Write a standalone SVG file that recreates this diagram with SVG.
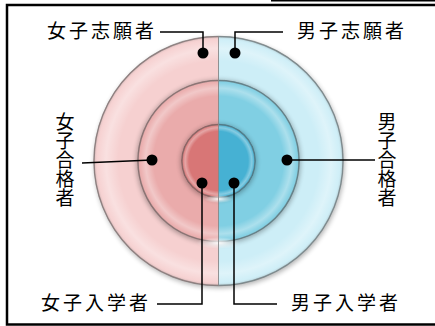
<svg xmlns="http://www.w3.org/2000/svg" width="435" height="326" viewBox="0 0 435 326">
<defs>
<style>
.lbl{font-family:"Noto Sans CJK JP","Noto Sans CJK SC",sans-serif;font-size:19px;fill:#000;letter-spacing:3px}
.vlbl{font-family:"Noto Sans CJK JP","Noto Sans CJK SC",sans-serif;font-size:19px;fill:#000;text-anchor:middle}
.lead{fill:none;stroke:#000;stroke-width:1.5}
.dot{fill:#000}
.rim{fill:url(#rim)}
.edge{fill:none;stroke:#555;stroke-opacity:0.55;stroke-width:1.4;filter:url(#soft)}
</style>
<radialGradient id="rim" cx="0.5" cy="0.5" r="0.5">
<stop offset="0.80" stop-color="#fff" stop-opacity="0"/>
<stop offset="0.90" stop-color="#fff" stop-opacity="0.35"/>
<stop offset="0.97" stop-color="#fff" stop-opacity="0.05"/>
<stop offset="1" stop-color="#000" stop-opacity="0.2"/>
</radialGradient>
<radialGradient id="glare" cx="0.5" cy="0.5" r="0.5">
<stop offset="0" stop-color="#fff" stop-opacity="0.95"/>
<stop offset="1" stop-color="#fff" stop-opacity="0"/>
</radialGradient>
<filter id="soft" x="-10%" y="-10%" width="120%" height="120%"><feGaussianBlur stdDeviation="0.7"/></filter>
<filter id="shadow" x="-20%" y="-20%" width="140%" height="140%"><feGaussianBlur stdDeviation="2.5"/></filter>
</defs>
<rect x="7" y="5" width="440" height="319.5" fill="#fff" stroke="#000" stroke-width="2.5"/>
<line x1="271" y1="0.7" x2="435" y2="0.7" stroke="#000" stroke-width="1.5"/>

<g id="outer-ring">
<circle cx="219.5" cy="163" r="125" fill="#000" opacity="0.3" filter="url(#shadow)"/>
<path d="M218.5 36 A125 125 0 0 0 218.5 286 Z" fill="#f6d0d0"/>
<path d="M218.5 36 A125 125 0 0 1 218.5 286 Z" fill="#cdeef7"/>
<circle class="rim" cx="218.5" cy="161" r="125"/>
<circle class="edge" cx="218.5" cy="161" r="124.5"/>
</g>
<g id="middle-ring">
<circle cx="218.5" cy="162" r="82" fill="#000" opacity="0.3" filter="url(#shadow)"/>
<path d="M218.5 80 A81 81 0 0 0 218.5 242 Z" fill="#eaabab"/>
<path d="M218.5 80 A81 81 0 0 1 218.5 242 Z" fill="#80cfe3"/>
<circle class="rim" cx="218.5" cy="161" r="81"/>
<circle class="edge" cx="218.5" cy="161" r="80.5"/>
<ellipse cx="218.5" cy="243" rx="22" ry="6" fill="url(#glare)"/>
</g>
<g id="inner-circle">
<circle cx="218.5" cy="162" r="38" fill="#000" opacity="0.3" filter="url(#shadow)"/>
<path d="M218.5 124 A37 37 0 0 0 218.5 198 Z" fill="#d87676"/>
<path d="M218.5 124 A37 37 0 0 1 218.5 198 Z" fill="#46b1d3"/>
<circle class="rim" cx="218.5" cy="161" r="37"/>
<circle class="edge" cx="218.5" cy="161" r="36.5"/>
<ellipse cx="218.5" cy="199" rx="14" ry="4" fill="url(#glare)"/>
</g>
<line x1="218.5" y1="36" x2="218.5" y2="286" stroke="#888" stroke-width="0.9"/>

<g id="connectors">
<polyline class="lead" points="160,32 203,32 203,53"/>
<polyline class="lead" points="283,32 235,32 235,53"/>
<polyline class="lead" points="82,163 152,160"/>
<polyline class="lead" points="375,160 287,160"/>
<polyline class="lead" points="157,304 202,304 202,183"/>
<polyline class="lead" points="277,304 234,304 234,183"/>
<circle class="dot" cx="203" cy="53" r="5.5"/>
<circle class="dot" cx="235" cy="53" r="5.5"/>
<circle class="dot" cx="152" cy="160" r="5.5"/>
<circle class="dot" cx="287" cy="160" r="5.5"/>
<circle class="dot" cx="202" cy="183" r="5.5"/>
<circle class="dot" cx="234" cy="183" r="5.5"/>
</g>

<g id="label-female-applicants"><text class="lbl" x="47" y="38">女子志願者</text></g>
<g id="label-male-applicants"><text class="lbl" x="297" y="38">男子志願者</text></g>
<g id="label-female-passed"><text class="vlbl" x="65"><tspan x="65" y="129">女</tspan><tspan x="65" y="148">子</tspan><tspan x="65" y="167">合</tspan><tspan x="65" y="186">格</tspan><tspan x="65" y="205">者</tspan></text></g>
<g id="label-male-passed"><text class="vlbl" x="387"><tspan x="387" y="129">男</tspan><tspan x="387" y="148">子</tspan><tspan x="387" y="167">合</tspan><tspan x="387" y="186">格</tspan><tspan x="387" y="205">者</tspan></text></g>
<g id="label-female-enrolled"><text class="lbl" x="41" y="310">女子入学者</text></g>
<g id="label-male-enrolled"><text class="lbl" x="291" y="310">男子入学者</text></g>
</svg>
